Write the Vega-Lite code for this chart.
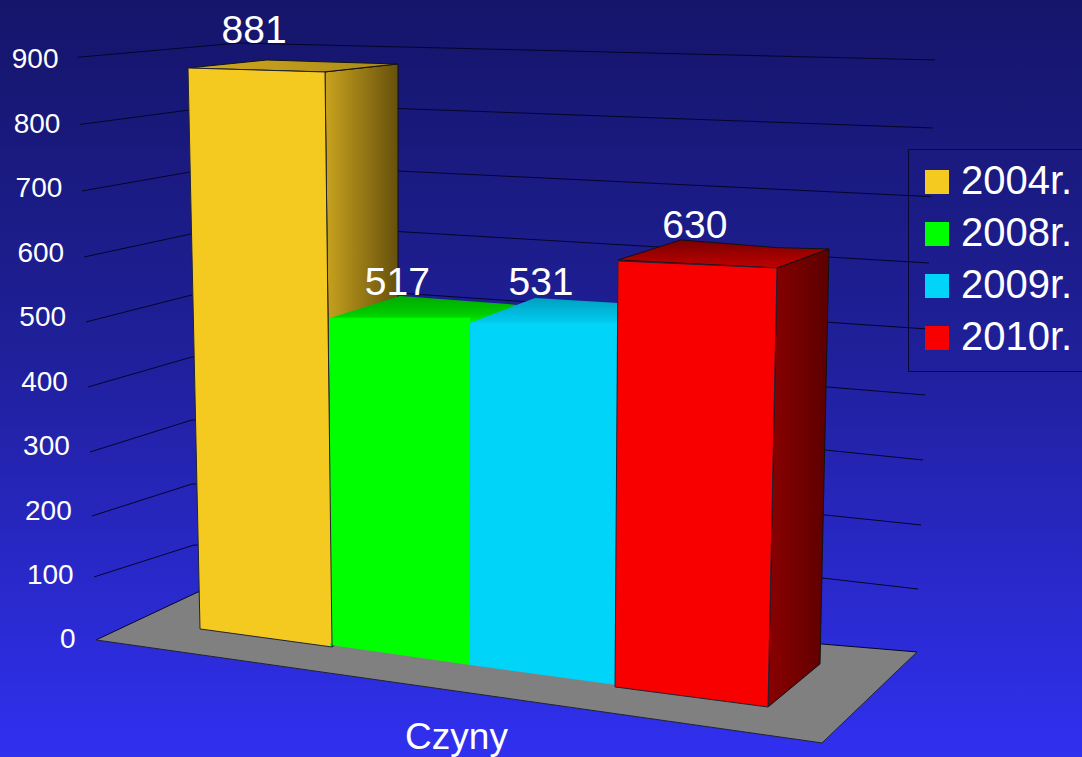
{
"$schema":"https://vega.github.io/schema/vega-lite/v6.json",
"autosize":{"type":"none"},"padding":0,"width":1082,"height":757,
"background":"#1f1f98",
"view":{"stroke":null,"fill":{"gradient":"linear","x1":0,"y1":0,"x2":0,"y2":1,"stops":[{"offset":0,"color":"#15156a"},{"offset":0.45,"color":"#1f1f98"},{"offset":1,"color":"#3030f0"}]}},
"config":{"font":"Liberation Sans","axisY":{"domain":false,"ticks":false,"grid":false,"labelFontSize":28,"labelColor":"#ffffff"}},
"data":{"values":[
{"series":"2004r.","value":881,"group":"Czyny"},
{"series":"2008r.","value":517,"group":"Czyny"},
{"series":"2009r.","value":531,"group":"Czyny"},
{"series":"2010r.","value":630,"group":"Czyny"}]},
"datasets":{
"grid":[
{"level":0,"across":96,"value":0},{"level":0,"across":198,"value":74.5},{"level":0,"across":917,"value":-18.6},
{"level":100,"across":94,"value":97.8},{"level":100,"across":194,"value":147.4},{"level":100,"across":822,"value":96.2},{"level":100,"across":918,"value":79.1},
{"level":200,"across":92,"value":192.4},{"level":200,"across":192,"value":242.1},{"level":200,"across":825,"value":194},{"level":200,"across":921,"value":178.5},
{"level":300,"across":90,"value":291.7},{"level":300,"across":192,"value":341.4},{"level":300,"across":825,"value":294.8},{"level":300,"across":923,"value":279.3},
{"level":400,"across":88,"value":392.6},{"level":400,"across":192,"value":439.2},{"level":400,"across":827,"value":392.6},{"level":400,"across":925,"value":380.2},
{"level":500,"across":86,"value":493.5},{"level":500,"across":192,"value":535.4},{"level":500,"across":397,"value":538.5},{"level":500,"across":927,"value":482.6},
{"level":600,"across":84,"value":594.3},{"level":600,"across":191,"value":630},{"level":600,"across":397,"value":633.9},{"level":600,"across":929,"value":585},
{"level":700,"across":82,"value":696.8},{"level":700,"across":190,"value":726.2},{"level":700,"across":397,"value":727.8},{"level":700,"across":931,"value":688},
{"level":800,"across":80,"value":800},{"level":800,"across":190,"value":822.5},{"level":800,"across":397,"value":824.8},{"level":800,"across":933,"value":794.5},
{"level":900,"across":78,"value":904.3},{"level":900,"across":239,"value":926.4},{"level":900,"across":935,"value":900}],
"edges":[
{"edge":"y1","across":188,"value":887.6},{"edge":"y1","across":200,"value":17.1},{"edge":"y1","across":332,"value":-10.9},
{"edge":"y2","across":325,"value":881.4},{"edge":"y2","across":332,"value":-10.9},
{"edge":"y3","across":188,"value":887.6},{"edge":"y3","across":325,"value":881.4},
{"edge":"r1","across":615,"value":-72.9},{"edge":"r1","across":618,"value":588.1},
{"edge":"r2","across":615,"value":-72.9},{"edge":"r2","across":768,"value":-104},{"edge":"r2","across":777,"value":577.3},
{"edge":"r3","across":618,"value":588.1},{"edge":"r3","across":777,"value":577.3},
{"edge":"f","across":96,"value":0},{"edge":"f","across":822,"value":-159.8},{"edge":"f","across":917,"value":-18.6}],
"faces":[
{"face":"floor","across":96,"top":0,"bottom":0},{"face":"floor","across":198,"top":74.5,"bottom":-22.5},{"face":"floor","across":822,"top":-6.4,"bottom":-159.8},{"face":"floor","across":917,"top":-18.6,"bottom":-18.6},
{"face":"side2004","across":325,"top":881.4,"bottom":881.4},{"face":"side2004","across":332,"top":882.7,"bottom":-10.9},{"face":"side2004","across":398,"top":893.8,"bottom":65.2},
{"face":"top2004","across":188,"top":887.6,"bottom":887.6},{"face":"top2004","across":267,"top":900,"bottom":884},{"face":"top2004","across":324,"top":897.2,"bottom":881.4},{"face":"top2004","across":397,"top":893.8,"bottom":893.8},
{"face":"top2008","across":330,"top":499.7,"bottom":499.7},{"face":"top2008","across":400,"top":533.8,"bottom":495.8},{"face":"top2008","across":470,"top":525.7,"bottom":491.9},{"face":"top2008","across":507,"top":521.4,"bottom":488},{"face":"top2008","across":530,"top":517.5,"bottom":517.5},
{"face":"top2009","across":470,"top":491.9,"bottom":491.9},{"face":"top2009","across":535,"top":530.7,"bottom":488.8},{"face":"top2009","across":618,"top":523,"bottom":485.7},
{"face":"side2010","across":768,"top":-104,"bottom":-104},{"face":"side2010","across":777,"top":577.3,"bottom":-92.5},{"face":"side2010","across":820,"top":601.6,"bottom":-37.2},{"face":"side2010","across":829,"top":606.8,"bottom":606.8},
{"face":"top2010","across":618,"top":589.7,"bottom":589.7},{"face":"top2010","across":681,"top":620.7,"bottom":584.7},{"face":"top2010","across":777,"top":608.8,"bottom":577.3},{"face":"top2010","across":829,"top":606.8,"bottom":606.8},
{"face":"front2004foot","across":200,"top":20,"bottom":17.1},{"face":"front2004foot","across":332,"top":20,"bottom":-10.9},
{"face":"front2004left","across":188,"top":887.6,"bottom":887.6},{"face":"front2004left","across":200,"top":887,"bottom":17.1},{"face":"front2004left","across":325,"top":881.4,"bottom":881.4},
{"face":"front2004right","across":325,"top":881.4,"bottom":-7.8},{"face":"front2004right","across":332,"top":-10.9,"bottom":-10.9},
{"face":"front2008foot","across":330,"top":-6,"bottom":-7.8},{"face":"front2008foot","across":470,"top":-6,"bottom":-38.8},
{"face":"front2009foot","across":470,"top":-37,"bottom":-38.8},{"face":"front2009foot","across":617,"top":-37,"bottom":-69.8},
{"face":"front2010foot","across":615,"top":-70,"bottom":-72.9},{"face":"front2010foot","across":768,"top":-70,"bottom":-104},
{"face":"front2010left","across":615,"top":-72.9,"bottom":-72.9},{"face":"front2010left","across":618,"top":588.1,"bottom":-73.5},{"face":"front2010left","across":777,"top":577.3,"bottom":577.3},
{"face":"front2010right","across":768,"top":578,"bottom":-104},{"face":"front2010right","across":777,"top":577.3,"bottom":577.3}]
},
"resolve":{"scale":{"x":"independent"},"axis":{"x":"independent"}},
"layer":[
{"data":{"name":"faces"},"transform":[{"filter":"datum.face==='floor'"}],"mark":{"type":"area","color":"#808080"},
 "encoding":{"x":{"field":"across","type":"quantitative","scale":{"domain":[0,1082],"zero":false,"nice":false},"axis":null},"y":{"field":"top","type":"quantitative","title":null,"scale":{"domain":[-181.6,993.1],"zero":false,"nice":false},"axis":{"values":[0,100,200,300,400,500,600,700,800,900],"offset":-75,"labelPadding":{"expr":"datum.value/900*17"}}},"y2":{"field":"bottom"}}},
{"data":{"name":"grid"},"mark":{"type":"line","color":"#05052a","strokeWidth":1},
 "encoding":{"x":{"field":"across","type":"quantitative","scale":{"domain":[0,1082],"zero":false,"nice":false},"axis":null},"y":{"field":"value","type":"quantitative","title":null,"scale":{"domain":[-181.6,993.1],"zero":false,"nice":false},"axis":{"values":[0,100,200,300,400,500,600,700,800,900],"offset":-75,"labelPadding":{"expr":"datum.value/900*17"}}},"detail":{"field":"level"}}},
{"data":{"name":"faces"},"transform":[{"filter":"datum.face==='side2004'"}],"mark":{"type":"area","stroke":"#111","strokeWidth":1,"fill":{"gradient":"linear","x1":0,"y1":0,"x2":1,"y2":0,"stops":[{"offset":0,"color":"#c9a31e"},{"offset":1,"color":"#66500c"}]}},
 "encoding":{"x":{"field":"across","type":"quantitative","scale":{"domain":[0,1082],"zero":false,"nice":false},"axis":null},"y":{"field":"top","type":"quantitative","title":null,"scale":{"domain":[-181.6,993.1],"zero":false,"nice":false},"axis":{"values":[0,100,200,300,400,500,600,700,800,900],"offset":-75,"labelPadding":{"expr":"datum.value/900*17"}}},"y2":{"field":"bottom"}}},
{"data":{"name":"faces"},"transform":[{"filter":"datum.face==='top2004'"}],"mark":{"type":"area","stroke":"#111","strokeWidth":1,"fill":{"gradient":"linear","x1":0,"y1":0,"x2":1,"y2":0,"stops":[{"offset":0,"color":"#d2ab1e"},{"offset":1,"color":"#a8871a"}]}},
 "encoding":{"x":{"field":"across","type":"quantitative","scale":{"domain":[0,1082],"zero":false,"nice":false},"axis":null},"y":{"field":"top","type":"quantitative","title":null,"scale":{"domain":[-181.6,993.1],"zero":false,"nice":false},"axis":{"values":[0,100,200,300,400,500,600,700,800,900],"offset":-75,"labelPadding":{"expr":"datum.value/900*17"}}},"y2":{"field":"bottom"}}},
{"data":{"name":"faces"},"transform":[{"filter":"datum.face==='top2008'"}],"mark":{"type":"area","fill":{"gradient":"linear","x1":0,"y1":0,"x2":0,"y2":1,"stops":[{"offset":0,"color":"#00aa00"},{"offset":0.6,"color":"#00cc00"},{"offset":1,"color":"#00ff00"}]}},
 "encoding":{"x":{"field":"across","type":"quantitative","scale":{"domain":[0,1082],"zero":false,"nice":false},"axis":null},"y":{"field":"top","type":"quantitative","title":null,"scale":{"domain":[-181.6,993.1],"zero":false,"nice":false},"axis":{"values":[0,100,200,300,400,500,600,700,800,900],"offset":-75,"labelPadding":{"expr":"datum.value/900*17"}}},"y2":{"field":"bottom"}}},
{"data":{"name":"faces"},"transform":[{"filter":"datum.face==='top2009'"}],"mark":{"type":"area","fill":{"gradient":"linear","x1":0,"y1":0,"x2":0,"y2":1,"stops":[{"offset":0,"color":"#00a0c0"},{"offset":1,"color":"#00d4f8"}]}},
 "encoding":{"x":{"field":"across","type":"quantitative","scale":{"domain":[0,1082],"zero":false,"nice":false},"axis":null},"y":{"field":"top","type":"quantitative","title":null,"scale":{"domain":[-181.6,993.1],"zero":false,"nice":false},"axis":{"values":[0,100,200,300,400,500,600,700,800,900],"offset":-75,"labelPadding":{"expr":"datum.value/900*17"}}},"y2":{"field":"bottom"}}},
{"data":{"name":"faces"},"transform":[{"filter":"datum.face==='side2010'"}],"mark":{"type":"area","stroke":"#111","strokeWidth":1,"fill":{"gradient":"linear","x1":0,"y1":0,"x2":1,"y2":0,"stops":[{"offset":0,"color":"#8a0000"},{"offset":1,"color":"#5c0000"}]}},
 "encoding":{"x":{"field":"across","type":"quantitative","scale":{"domain":[0,1082],"zero":false,"nice":false},"axis":null},"y":{"field":"top","type":"quantitative","title":null,"scale":{"domain":[-181.6,993.1],"zero":false,"nice":false},"axis":{"values":[0,100,200,300,400,500,600,700,800,900],"offset":-75,"labelPadding":{"expr":"datum.value/900*17"}}},"y2":{"field":"bottom"}}},
{"data":{"name":"faces"},"transform":[{"filter":"datum.face==='top2010'"}],"mark":{"type":"area","stroke":"#111","strokeWidth":1,"fill":{"gradient":"linear","x1":0,"y1":0,"x2":0,"y2":1,"stops":[{"offset":0,"color":"#7a0000"},{"offset":1,"color":"#c00000"}]}},
 "encoding":{"x":{"field":"across","type":"quantitative","scale":{"domain":[0,1082],"zero":false,"nice":false},"axis":null},"y":{"field":"top","type":"quantitative","title":null,"scale":{"domain":[-181.6,993.1],"zero":false,"nice":false},"axis":{"values":[0,100,200,300,400,500,600,700,800,900],"offset":-75,"labelPadding":{"expr":"datum.value/900*17"}}},"y2":{"field":"bottom"}}},
{"mark":{"type":"bar",
  "width":{"expr":"{'2004r.':125,'2008r.':140,'2009r.':147,'2010r.':150}[datum.series]"},
  "xOffset":{"expr":"{'2004r.':-0.6,'2008r.':-9.4,'2009r.':-12.1,'2010r.':-8.9}[datum.series]"},
  "yOffset":{"expr":"{'2004r.':0,'2008r.':11,'2009r.':25,'2010r.':34}[datum.series]"},
  "y2Offset":{"expr":"{'2004r.':-11,'2008r.':5,'2009r.':25,'2010r.':47}[datum.series]"}},
 "encoding":{
  "x":{"field":"series","type":"nominal","scale":{"domain":["2004r.","2008r.","2009r.","2010r."],"range":[190,775],"paddingInner":0,"paddingOuter":0},
   "axis":{"domain":false,"ticks":false,"labels":false,"grid":false,"title":"Czyny","titleFontSize":37,"titleColor":"#ffffff","titleFontWeight":"normal","titleX":456,"titleY":-9,"titleAlign":"center","titleBaseline":"alphabetic","titlePadding":0}},
  "y":{"field":"value","type":"quantitative","title":null,"scale":{"domain":[-181.6,993.1],"zero":false,"nice":false},
   "axis":{"values":[0,100,200,300,400,500,600,700,800,900],"offset":-75,"labelPadding":{"expr":"datum.value/900*17"}}},
  "y2":{"datum":0},
  "fill":{"field":"series","type":"nominal","scale":{"domain":["2004r.","2008r.","2009r.","2010r."],"range":["#f5ca20","#00ff00","#00d4f8","#f80000"]},
   "legend":{"title":null,"orient":"none","legendX":908,"legendY":149,"strokeColor":"#0a0a30","padding":13,"symbolType":"square","symbolSize":576,"symbolOffset":-4,"labelFontSize":40,"labelColor":"#ffffff","labelOffset":4,"rowPadding":12,"labelLimit":300}}}},
{"data":{"name":"faces"},"transform":[{"filter":"indexof(datum.face,'front2004')===0"}],"mark":{"type":"area","color":"#f5ca20"},
 "encoding":{"x":{"field":"across","type":"quantitative","scale":{"domain":[0,1082],"zero":false,"nice":false},"axis":null},"y":{"field":"top","type":"quantitative","title":null,"scale":{"domain":[-181.6,993.1],"zero":false,"nice":false},"axis":{"values":[0,100,200,300,400,500,600,700,800,900],"offset":-75,"labelPadding":{"expr":"datum.value/900*17"}}},"y2":{"field":"bottom"},"detail":{"field":"face"}}},
{"data":{"name":"faces"},"transform":[{"filter":"indexof(datum.face,'front2008')===0"}],"mark":{"type":"area","color":"#00ff00"},
 "encoding":{"x":{"field":"across","type":"quantitative","scale":{"domain":[0,1082],"zero":false,"nice":false},"axis":null},"y":{"field":"top","type":"quantitative","title":null,"scale":{"domain":[-181.6,993.1],"zero":false,"nice":false},"axis":{"values":[0,100,200,300,400,500,600,700,800,900],"offset":-75,"labelPadding":{"expr":"datum.value/900*17"}}},"y2":{"field":"bottom"},"detail":{"field":"face"}}},
{"data":{"name":"faces"},"transform":[{"filter":"indexof(datum.face,'front2009')===0"}],"mark":{"type":"area","color":"#00d4f8"},
 "encoding":{"x":{"field":"across","type":"quantitative","scale":{"domain":[0,1082],"zero":false,"nice":false},"axis":null},"y":{"field":"top","type":"quantitative","title":null,"scale":{"domain":[-181.6,993.1],"zero":false,"nice":false},"axis":{"values":[0,100,200,300,400,500,600,700,800,900],"offset":-75,"labelPadding":{"expr":"datum.value/900*17"}}},"y2":{"field":"bottom"},"detail":{"field":"face"}}},
{"data":{"name":"faces"},"transform":[{"filter":"indexof(datum.face,'front2010')===0"}],"mark":{"type":"area","color":"#f80000"},
 "encoding":{"x":{"field":"across","type":"quantitative","scale":{"domain":[0,1082],"zero":false,"nice":false},"axis":null},"y":{"field":"top","type":"quantitative","title":null,"scale":{"domain":[-181.6,993.1],"zero":false,"nice":false},"axis":{"values":[0,100,200,300,400,500,600,700,800,900],"offset":-75,"labelPadding":{"expr":"datum.value/900*17"}}},"y2":{"field":"bottom"},"detail":{"field":"face"}}},
{"data":{"name":"edges"},"mark":{"type":"line","color":"#222233","strokeWidth":1},
 "encoding":{"x":{"field":"across","type":"quantitative","scale":{"domain":[0,1082],"zero":false,"nice":false},"axis":null},"y":{"field":"value","type":"quantitative","title":null,"scale":{"domain":[-181.6,993.1],"zero":false,"nice":false},"axis":{"values":[0,100,200,300,400,500,600,700,800,900],"offset":-75,"labelPadding":{"expr":"datum.value/900*17"}}},"detail":{"field":"edge"}}},
{"mark":{"type":"text","fontSize":39,"color":"#ffffff","align":"center","baseline":"alphabetic",
  "dx":{"expr":"{'2004r.':-9,'2008r.':-12,'2009r.':-14.6,'2010r.':-7}[datum.series]"},
  "dy":{"expr":"{'2004r.':-29,'2008r.':-12,'2009r.':-3,'2010r.':4}[datum.series]"}},
 "encoding":{
  "x":{"field":"series","type":"nominal","scale":{"domain":["2004r.","2008r.","2009r.","2010r."],"range":[190,775],"paddingInner":0,"paddingOuter":0},"axis":null},
  "y":{"field":"value","type":"quantitative","title":null,"scale":{"domain":[-181.6,993.1],"zero":false,"nice":false},"axis":{"values":[0,100,200,300,400,500,600,700,800,900],"offset":-75,"labelPadding":{"expr":"datum.value/900*17"}}},
  "text":{"field":"value","type":"quantitative"}}}
]}
